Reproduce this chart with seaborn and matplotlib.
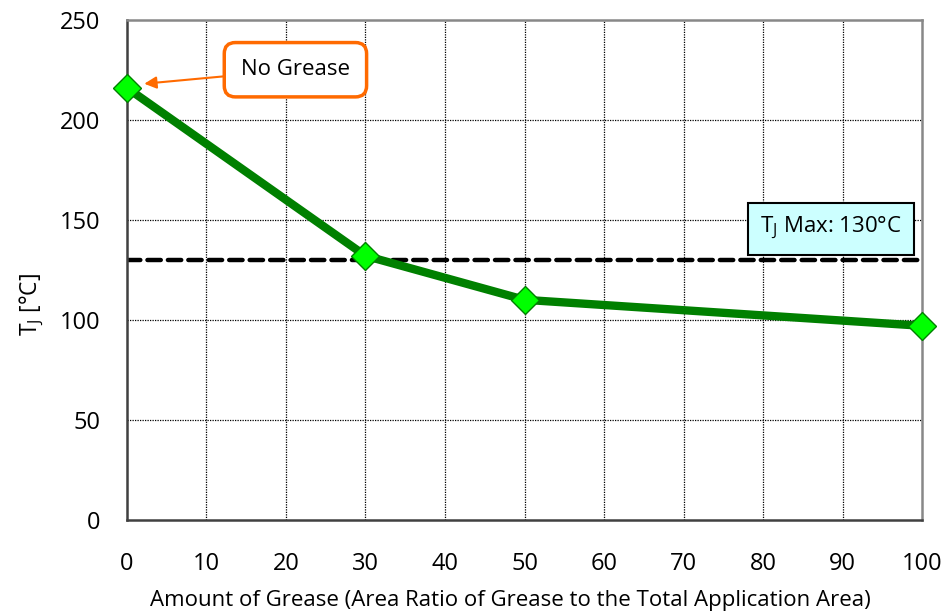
import numpy as np
import pandas as pd
import matplotlib
matplotlib.use("Agg")
import matplotlib.pyplot as plt
import seaborn as sns

# data
grease_ratio = [0, 30, 50, 100]
tj_values = [216, 132, 110, 97]
tj_max = 130
x_ticks = list(range(0, 101, 10))
y_ticks = list(range(0, 251, 50))

sns.set_theme(style="white")
plt.rcParams['font.family'] = ['Open Sans', 'DejaVu Sans']
plt.rcParams['mathtext.default'] = 'regular'
plt.rcParams['text.color'] = 'black'
plt.rcParams['axes.labelcolor'] = 'black'
plt.rcParams['xtick.color'] = 'black'
plt.rcParams['ytick.color'] = 'black'

df = pd.DataFrame({'ratio': grease_ratio, 'tj': tj_values})

fig = plt.figure(figsize=(9.46, 6.16), dpi=100)
ax = fig.add_axes([0.134, 0.156, 0.841, 0.812])

# dotted grid
for xv in x_ticks[1:-1]:
    ax.axvline(xv, color='black', lw=0.9, ls=(0, (1, 1)), zorder=0)
for yv in y_ticks[1:-1]:
    ax.axhline(yv, color='black', lw=0.9, ls=(0, (1, 1)), zorder=0)

# Tj max reference line
ax.axhline(tj_max, color='black', lw=3.2, ls=(0, (3, 1.6)),
           dash_capstyle='round', zorder=2)

sns.lineplot(data=df, x='ratio', y='tj', ax=ax, color='#008000', lw=6,
             marker='D', markersize=14, markerfacecolor='#00ff00',
             markeredgecolor='#008000', markeredgewidth=1, zorder=3,
             clip_on=False)

ax.set_xlim(0, 100)
ax.set_ylim(0, 250)
ax.set_xticks(x_ticks)
ax.set_yticks(y_ticks)
ax.tick_params(axis='x', labelsize=17, length=0, pad=23)
ax.tick_params(axis='y', labelsize=17, length=0, pad=19)
ax.set_xlabel('Amount of Grease (Area Ratio of Grease to the Total Application Area)',
              fontsize=16, va='center')
ax.set_ylabel('T$_{J}$ [°C]', fontsize=16.5, va='center')
ax.xaxis.set_label_coords(0.482, -0.162)
ax.yaxis.set_label_coords(-0.12, 0.43)

for side in ['left', 'bottom']:
    ax.spines[side].set_color('#404040')
    ax.spines[side].set_linewidth(1.8)
for side in ['top', 'right']:
    ax.spines[side].set_color('#888888')
    ax.spines[side].set_linewidth(1.8)

# annotations
ax.annotate('No Grease', xy=(2.2, 218), xytext=(21.2, 225),
            fontsize=16, ha='center', va='center',
            bbox=dict(boxstyle='round,pad=0.75,rounding_size=0.5',
                      fc='white', ec='#ff6a00', lw=2.5),
            arrowprops=dict(arrowstyle='-|>', color='#ff6a00', lw=1.5,
                            mutation_scale=18, shrinkA=0, shrinkB=0),
            zorder=5)

ax.text(88.5, 145.5, 'T$_{J}$ Max: 130°C', fontsize=16, ha='center', va='center',
        bbox=dict(boxstyle='square,pad=0.55', fc='#ccffff', ec='black', lw=1.5),
        zorder=5)

plt.savefig('out.png', dpi=100)
